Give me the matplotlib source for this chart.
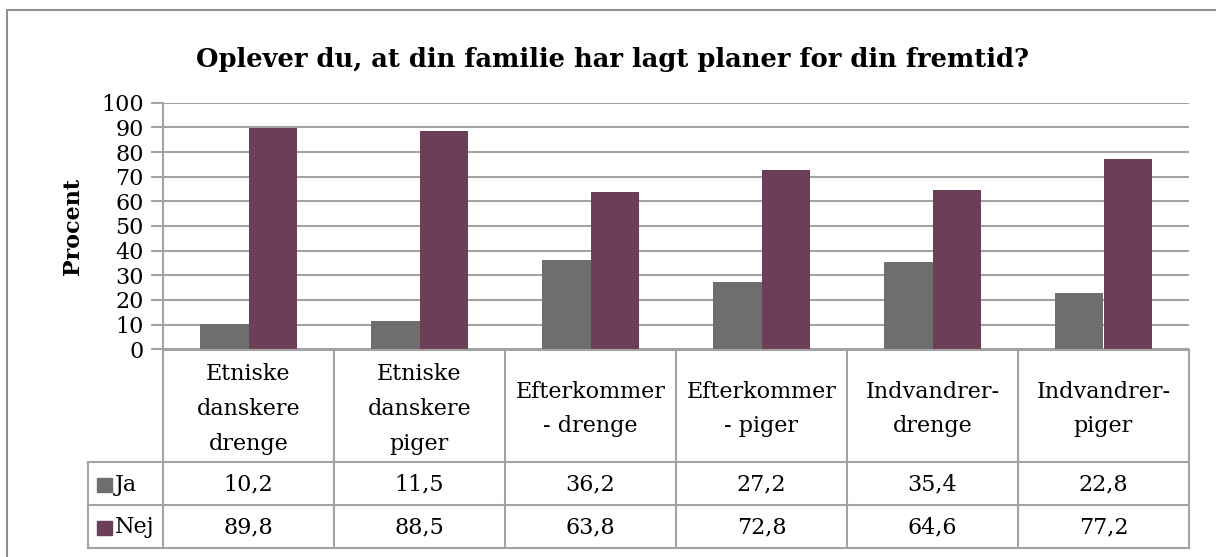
import matplotlib
matplotlib.use("Agg")
import matplotlib.pyplot as plt
from matplotlib.patches import Rectangle
import numpy as np

# data
categories = ["Etniske\ndanskere\ndrenge", "Etniske\ndanskere\npiger", "Efterkommer\n- drenge",
              "Efterkommer\n- piger", "Indvandrer-\ndrenge", "Indvandrer-\npiger"]
series_names = ["Ja", "Nej"]
ja = [10.2, 11.5, 36.2, 27.2, 35.4, 22.8]
nej = [89.8, 88.5, 63.8, 72.8, 64.6, 77.2]
yticks = [0, 10, 20, 30, 40, 50, 60, 70, 80, 90, 100]
title = "Oplever du, at din familie har lagt planer for din fremtid?"
ylabel = "Procent"

colors = ["#6e6e6e", "#6c3f59"]
grid_col = "#a3a3a3"
font = "DejaVu Serif"

W, H = 1216, 557
fig = plt.figure(figsize=(W / 100, H / 100), dpi=100)

def fx(px):
    return px / W

def fy(py):
    return 1 - py / H

# outer chart border (only top/left visible in crop)
fig.add_artist(Rectangle((fx(7), -0.1), 1.2, fy(10) + 0.1, transform=fig.transFigure,
                         fill=False, edgecolor="#8f8f8f", lw=1.5))

# plot area
x_left, x_right = 163, 1189
y_top, y_zero = 102.7, 349.3
ax = fig.add_axes([fx(x_left), fy(y_zero), (x_right - x_left) / W, (y_zero - y_top) / H])
x = np.arange(len(categories))
w = 1 / 3.5
ax.bar(x - w / 2, ja, width=w, color=colors[0], zorder=3)
ax.bar(x + w / 2, nej, width=w, color=colors[1], zorder=3)
ax.set_xlim(-0.5, len(categories) - 0.5)
ax.set_ylim(0, 100)
ax.set_yticks(yticks)
ax.set_yticklabels([str(t) for t in yticks], fontfamily=font, fontsize=16)
ax.yaxis.grid(True, color=grid_col, lw=1.5, zorder=0)
ax.set_xticks([])
for s in ["top", "right", "bottom"]:
    ax.spines[s].set_visible(False)
ax.spines["left"].set_color(grid_col)
ax.spines["left"].set_linewidth(1.5)
ax.tick_params(axis="y", length=9, width=1.5, color=grid_col, pad=5)
ax.set_ylabel(ylabel, fontfamily=font, fontsize=16, fontweight="bold", labelpad=12)

fig.text(fx(612), fy(60), title, ha="center", va="center", fontfamily=font,
         fontsize=18.5, fontweight="bold")

# data table below the plot
t_left, t_top, t_bottom = 88, 350, 548
tab = fig.add_axes([fx(t_left), fy(t_bottom), (x_right - t_left) / W, (t_bottom - t_top) / H])
col_w = (x_right - x_left) / len(categories)
legend_w = (x_left - t_left) / col_w
tab.set_xlim(-0.5 - legend_w, len(categories) - 0.5)
tab.set_ylim(198, 0)
tab.axis("off")
rows = [0, 112, 155, 198]
lkw = dict(color=grid_col, lw=1.5, clip_on=False)
tab.plot([-0.5, len(categories) - 0.5], [rows[0], rows[0]], **lkw)
for r in rows[1:]:
    tab.plot([-0.5 - legend_w, len(categories) - 0.5], [r, r], **lkw)
for i in range(len(categories) + 1):
    tab.plot([i - 0.5, i - 0.5], [rows[0], rows[-1]], **lkw)
tab.plot([-0.5 - legend_w] * 2, [rows[1], rows[-1]], **lkw)

for i, c in enumerate(categories):
    tab.text(i, (rows[0] + rows[1]) / 2 + 3, c, ha="center", va="center", fontfamily=font,
             fontsize=16, linespacing=1.75)
for k, vals in enumerate([ja, nej]):
    yc = (rows[k + 1] + rows[k + 2]) / 2
    for i, v in enumerate(vals):
        tab.text(i, yc + 1, f"{v:.1f}".replace(".", ","), ha="center", va="center",
                 fontfamily=font, fontsize=16)
    tab.add_patch(Rectangle((-0.5 - legend_w + 0.053, yc - 6), 0.088, 14,
                            color=colors[k], clip_on=False))
    tab.text(-0.5 - legend_w + 0.16, yc + 1, series_names[k], ha="left", va="center",
             fontfamily=font, fontsize=16)

fig.savefig("out.png", dpi=100, facecolor="white")
